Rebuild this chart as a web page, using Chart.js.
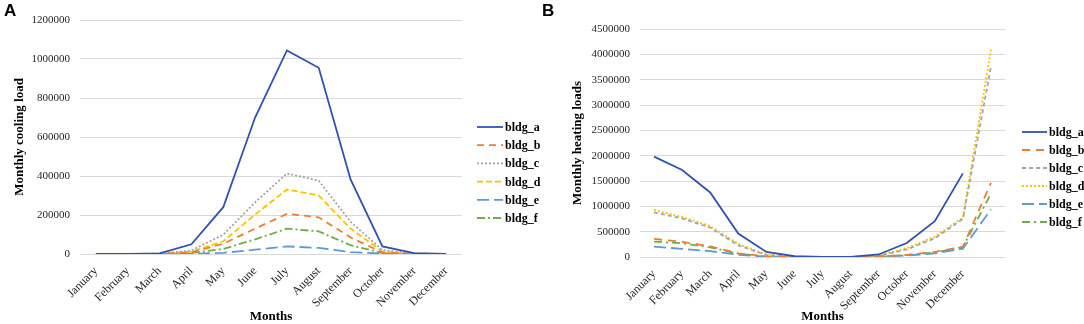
<!DOCTYPE html>
<html>
<head>
<meta charset="utf-8">
<script src="https://cdn.jsdelivr.net/npm/chart.js@4.4.1/dist/chart.umd.min.js"></script>
<style>
  body { margin: 0; background: #fff; width: 1084px; height: 324px; position: relative; overflow: hidden; }
  .panel { position: absolute; top: 0; height: 324px; }
  .tag { position: absolute; top: 1px; font: bold 17px "Liberation Sans", Arial, sans-serif; color: #000; }
</style>
</head>
<body>
<div class="panel" style="left:0;width:545px"><canvas id="cooling" width="545" height="324"></canvas></div>
<div class="panel" style="left:540px;width:544px"><canvas id="heating" width="544" height="324"></canvas></div>
<div class="tag" style="left:4px">A</div>
<div class="tag" style="left:542px">B</div>
<script>
var months = ['January', 'February', 'March', 'April', 'May', 'June', 'July', 'August',
              'September', 'October', 'November', 'December'];
var buildings = ['bldg_a', 'bldg_b', 'bldg_c', 'bldg_d', 'bldg_e', 'bldg_f'];

// panel A - monthly cooling load
var coolA = [0, 0, 3000, 50000, 240000, 700000, 1044000, 955000, 382000, 39000, 5000, 0];
var coolB = [0, 0, 1000, 8000, 53000, 130000, 206000, 188000, 85000, 8000, 1000, 0];
var coolC = [0, 0, 2000, 18000, 99000, 265000, 413000, 376000, 165000, 20000, 2000, 0];
var coolD = [0, 0, 1500, 12000, 65000, 202000, 331000, 300000, 130000, 12000, 1500, 0];
var coolE = [0, 0, 200, 1500, 6000, 22000, 39000, 31000, 10000, 2000, 300, 0];
var coolF = [0, 0, 800, 5000, 26000, 75000, 130000, 116000, 45000, 5000, 600, 0];
var coolTicks = { max: 1200000, step: 200000 };

// panel B - monthly heating loads (13th, unlabelled category as in the source)
var heatLabels = months.concat(['']);
var heatA = [1980000, 1716000, 1274000, 463000, 99000, 15000, 2000, 3000, 50000, 277000, 706000, 1650000];
var heatB = [356000, 300000, 210000, 73000, 10000, 2000, 0, 0, 10000, 40000, 100000, 200000, 1465000];
var heatC = [880000, 760000, 580000, 230000, 40000, 5000, 0, 0, 20000, 150000, 370000, 750000, 3760000];
var heatD = [930000, 790000, 610000, 260000, 50000, 5000, 0, 0, 25000, 175000, 400000, 780000, 4090000];
var heatE = [204000, 160000, 115000, 45000, 5000, 1000, 0, 0, 8000, 30000, 70000, 166000, 938000];
var heatF = [303000, 270000, 190000, 65000, 8000, 1000, 0, 0, 9000, 38000, 90000, 198000, 1250000];
var heatTicks = { max: 4500000, step: 500000 };

var colors = ['#2f52b2', '#ed7d31', '#a5a5a5', '#ffc000', '#5b9bd5', '#70ad47'];
var coolDash = [[], [7, 5], [2, 2], [6, 3], [12, 5], [8, 3, 2, 3]];
var heatDash = [[], [8, 6], [4, 3], [2, 2], [12, 5], [8, 4, 2, 4]];

var serif = '"Liberation Serif", "Times New Roman", serif';

// legend on the right, one short line sample per series
var sideLegend = {
    id: 'sideLegend',
    afterDraw: function(chart, args, o) {
        var ctx = chart.ctx;
        chart.data.datasets.forEach(function(ds, i) {
            var y = o.y + i * o.step;
            ctx.save();
            ctx.strokeStyle = ds.borderColor;
            ctx.lineWidth = ds.borderWidth;
            ctx.setLineDash(ds.borderDash || []);
            ctx.beginPath();
            ctx.moveTo(o.x, y);
            ctx.lineTo(o.x + o.len, y);
            ctx.stroke();
            ctx.setLineDash([]);
            ctx.fillStyle = '#000';
            ctx.font = 'bold 12px ' + serif;
            ctx.textBaseline = 'middle';
            ctx.fillText(ds.label, o.x + o.len + 2, y + 1);
            ctx.restore();
        });
    }
};

function makeChart(id, labels, series, dashes, ticks, yTitle, lay) {
    var datasets = series.map(function(data, i) {
        return {
            label: buildings[i],
            data: data,
            borderColor: colors[i],
            borderDash: dashes[i],
            borderWidth: 1.8,
            pointRadius: 0,
            tension: 0,
            fill: false
        };
    });

    return new Chart(document.getElementById(id), {
        type: 'line',
        data: { labels: labels, datasets: datasets },
        plugins: [sideLegend],
        options: {
            responsive: false,
            animation: false,
            layout: { padding: { left: 0, top: lay.top, right: lay.right, bottom: 0 } },
            plugins: {
                legend: { display: false },
                tooltip: { enabled: false },
                sideLegend: lay.legend
            },
            scales: {
                x: {
                    offset: true,
                    grid: { display: false },
                    border: { display: false },
                    ticks: {
                        autoSkip: false, maxRotation: 45, minRotation: 45, padding: 2,
                        color: '#262626', font: { family: serif, size: 12 }
                    },
                    title: {
                        display: true, text: 'Months', color: '#000',
                        font: { family: serif, size: 13, weight: 'bold' },
                        padding: { top: 0, bottom: 0 }
                    },
                    afterFit: function(s) { s.height = lay.xHeight; }
                },
                y: {
                    min: 0,
                    max: ticks.max,
                    grid: { color: '#d9d9d9', lineWidth: 1, drawTicks: false },
                    border: { display: false },
                    ticks: {
                        stepSize: ticks.step, padding: 10,
                        color: '#262626', font: { family: serif, size: 11 },
                        callback: function(v) { return String(v); }
                    },
                    title: {
                        display: true, text: yTitle, color: '#000',
                        font: { family: serif, size: 13, weight: 'bold' },
                        padding: { top: lay.titlePad, bottom: 0 }
                    },
                    afterFit: function(s) { s.width = lay.yWidth; }
                }
            }
        }
    });
}

makeChart('cooling', months, [coolA, coolB, coolC, coolD, coolE, coolF], coolDash, coolTicks,
    'Monthly cooling load',
    { top: 20, right: 83, xHeight: 70, yWidth: 80, titlePad: 12,
      legend: { x: 477, len: 26, y: 127, step: 18.2 } });

makeChart('heating', heatLabels, [heatA, heatB, heatC, heatD, heatE, heatF], heatDash, heatTicks,
    'Monthly heating loads',
    { top: 29, right: 79, xHeight: 67, yWidth: 100, titlePad: 30,
      legend: { x: 482, len: 25, y: 132, step: 18 } });
</script>
</body>
</html>
